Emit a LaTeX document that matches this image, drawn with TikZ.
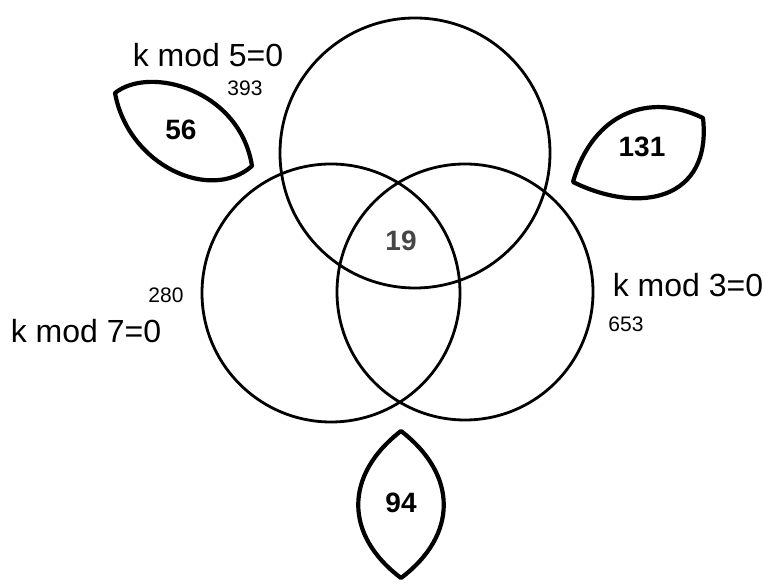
\documentclass[tikz,border=0pt]{standalone}
\usepackage{fontspec}
\setmainfont{Liberation Sans}
\usepackage{tikz}

\begin{document}
\begin{tikzpicture}[x=1pt,y=1pt,
  setline/.style={draw=black,line width=2.8pt},
  leafline/.style={draw=black,line width=4.2pt,line join=round},
  setlabel/.style={inner sep=0pt,font=\fontsize{32}{36}\selectfont},
  smallnum/.style={inner sep=0pt,font=\fontsize{21}{24}\selectfont},
  bignum/.style={inner sep=0pt,font=\fontsize{28}{30}\selectfont\bfseries}]
\definecolor{fillColor}{RGB}{255,255,255}
\definecolor{midColor}{RGB}{70,70,70}
\path[use as bounding box,fill=fillColor] (0,0) rectangle (763,583);

% the three sets
\path[setline] (415.00,430.00) circle (135.00);
\path[setline] (331.00,290.00) circle (129.00);
\path[setline] (465.00,291.00) circle (128.00);

% leaves for the counts outside
\coordinate (l5a) at (115,490);
\coordinate (l5b) at (252,417);
\coordinate (l3a) at (573,401);
\coordinate (l3b) at (703,465);
\coordinate (l7a) at (401,152);
\coordinate (l7b) at (401,5);
\path[leafline] (l5a) .. controls (150,518) and (240,493) .. (l5b)
  .. controls (210,380) and (128,418) .. (l5a) -- cycle;
\path[leafline] (l3a) .. controls (593,471) and (650,491) .. (l3b)
  .. controls (712,383) and (640,368) .. (l3a) -- cycle;
\path[leafline] (l7a) .. controls (344,108) and (344,48) .. (l7b)
  .. controls (458,48) and (458,108) .. (l7a) -- cycle;

% labels
\node[setlabel] (mod5) at (208,528) {k mod 5=0};
\node[setlabel] (mod7) at ( 86,252) {k mod 7=0};
\node[setlabel] (mod3) at (688,298) {k mod 3=0};
\node[smallnum] (c393) at (245,495) {393};
\node[smallnum] (c280) at (166,288) {280};
\node[smallnum] (c653) at (626,259) {653};
\node[bignum] (c56) at (181,453) {56};
\node[bignum] (c131) at (642,436) {131};
\node[bignum] (c94) at (401,80) {94};
\node[bignum,text=midColor] (c19) at (401,342) {19};
\end{tikzpicture}
\end{document}
